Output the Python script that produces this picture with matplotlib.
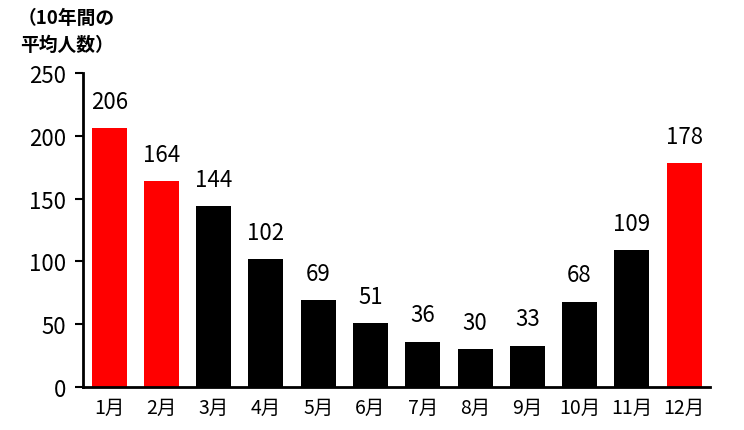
import matplotlib.pyplot as plt

plt.rcParams['font.family'] = ['Noto Sans CJK JP', 'DejaVu Sans']

months = ["1月", "2月", "3月", "4月", "5月", "6月", "7月", "8月", "9月", "10月", "11月", "12月"]
avg_people = [206, 164, 144, 102, 69, 51, 36, 30, 33, 68, 109, 178]
highlight = ["1月", "2月", "12月"]

colors = ["#ff0000" if m in highlight else "#000000" for m in months]

fig = plt.figure(figsize=(7.44, 4.31), dpi=100)
ax = fig.add_axes([0.1116, 0.0998, 0.843, 0.7285])

x = range(len(months))
bars = ax.bar(x, avg_people, width=0.67, color=colors)

for rect, v in zip(bars, avg_people):
    ax.annotate(str(v), (rect.get_x() + rect.get_width() / 2, v),
                xytext=(0, 11), textcoords="offset points",
                ha="center", va="bottom", fontsize=16)

ax.set_xlim(-0.5, len(months) - 0.5)
ax.set_ylim(0, 250)
ax.set_yticks([0, 50, 100, 150, 200, 250])
ax.set_xticks(list(x))
ax.set_xticklabels(months, fontsize=14)
ax.tick_params(axis="y", labelsize=16, length=6, width=1.5, direction="out", pad=6)
ax.tick_params(axis="x", length=0, pad=7)

for s in ["top", "right"]:
    ax.spines[s].set_visible(False)
for s in ["left", "bottom"]:
    ax.spines[s].set_linewidth(2)

fig.text(18 / 744, 1 - 18 / 431, "（10年間の", fontsize=13.5, fontweight="bold",
         ha="left", va="center")
fig.text(20 / 744, 1 - 45 / 431, "平均人数）", fontsize=13.5, fontweight="bold",
         ha="left", va="center")

fig.savefig("out.png", dpi=100)
